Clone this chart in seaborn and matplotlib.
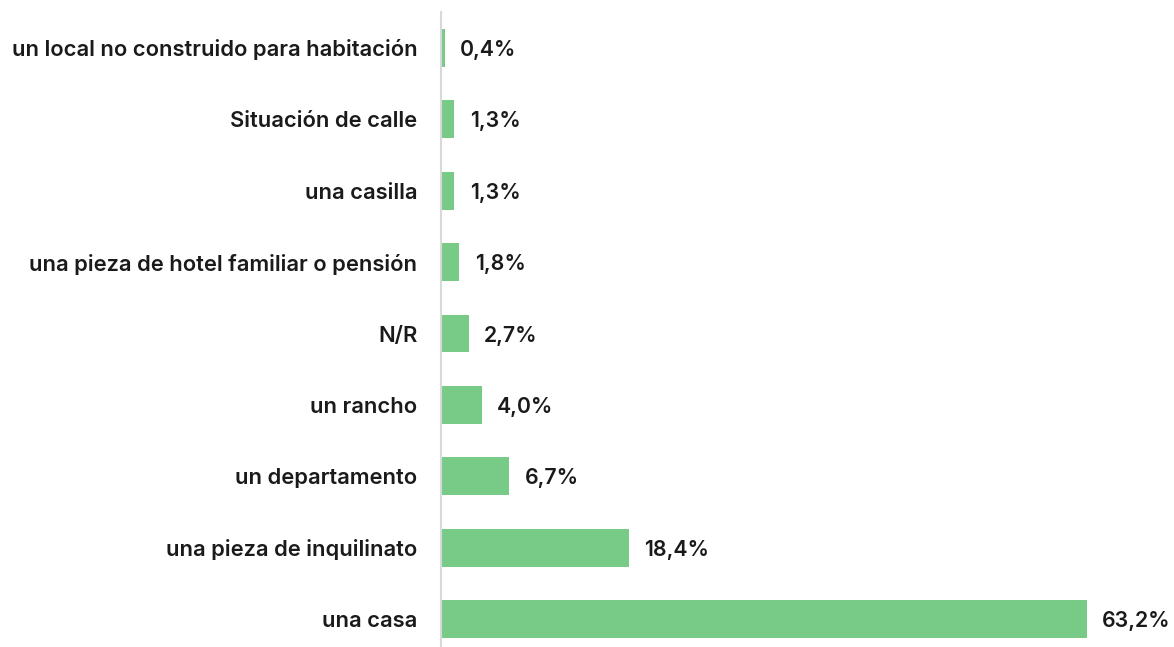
import matplotlib
matplotlib.use("Agg")
import matplotlib.pyplot as plt
import seaborn as sns
import pandas as pd

categories = [
    "un local no construido para habitación",
    "Situación de calle",
    "una casilla",
    "una pieza de hotel familiar o pensión",
    "N/R",
    "un rancho",
    "un departamento",
    "una pieza de inquilinato",
    "una casa",
]
values = [0.4, 1.3, 1.3, 1.8, 2.7, 4.0, 6.7, 18.4, 63.2]
value_labels = ["0,4%", "1,3%", "1,3%", "1,8%", "2,7%", "4,0%", "6,7%", "18,4%", "63,2%"]

sns.set_theme(style="white")
plt.rcParams["font.family"] = ["Inter", "DejaVu Sans"]

df = pd.DataFrame({"cat": categories, "val": values})

fig = plt.figure(figsize=(11.74, 6.47), dpi=100)
ax = fig.add_axes([441 / 1174, 0.0, 1 - 441 / 1174, 1 - 12 / 647])
sns.barplot(data=df, x="val", y="cat", color="#77CB87", width=0.53, saturation=1,
            linewidth=0, ax=ax, order=categories)

ax.set_xlim(0, (1174 - 441) / 10.22)
ax.set_ylim(8 + 0.39, -0.504)
ax.set_xlabel("")
ax.set_ylabel("")
ax.set_xticks([])
for s in ["top", "right", "bottom"]:
    ax.spines[s].set_visible(False)
ax.spines["left"].set_color("#D9D9D9")
ax.spines["left"].set_linewidth(1.5)
ax.tick_params(axis="y", length=0, pad=17)
for t in ax.get_yticklabels():
    t.set_fontsize(15.8)
    t.set_fontweight("semibold")
    t.set_color("#1a1a1a")

for i, (v, lab) in enumerate(zip(values, value_labels)):
    ax.annotate(lab, xy=(v, i), xytext=(11, -1.5), textcoords="offset points",
                ha="left", va="center", fontsize=15.3, fontweight="semibold", color="#1a1a1a")

fig.savefig("out.png", dpi=100)
